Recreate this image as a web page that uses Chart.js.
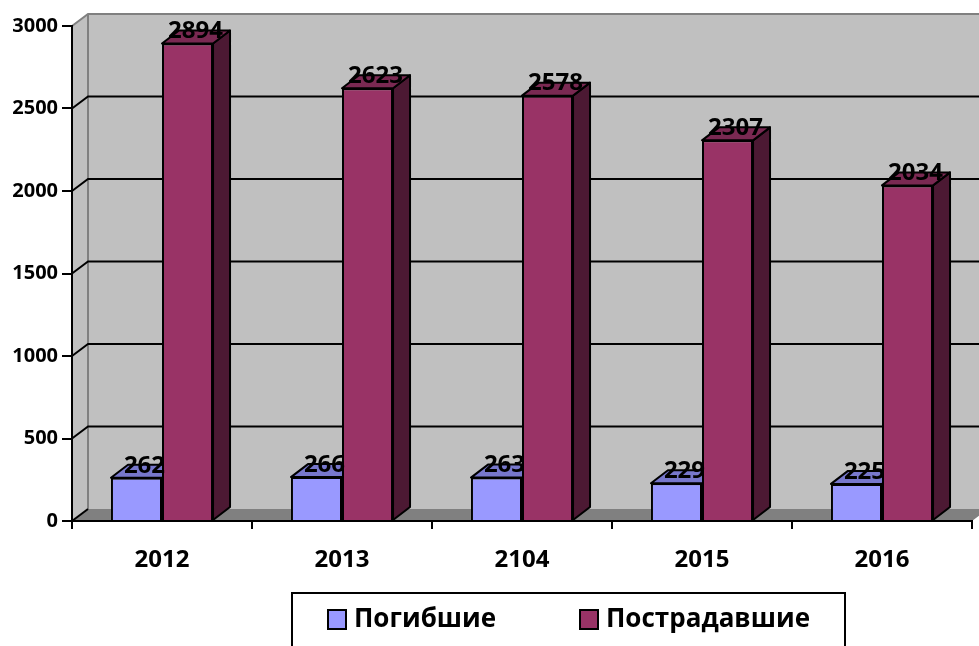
<!DOCTYPE html>
<html>
<head>
<meta charset="utf-8">
<script src="https://cdn.jsdelivr.net/npm/chart.js@4"></script>
<style>
  html, body { margin: 0; padding: 0; background: #fff; }
  #wrap { width: 979px; height: 646px; }
</style>
</head>
<body>
<div id="wrap"><canvas id="chart" width="979" height="646"></canvas></div>
<script>
const years = ['2012', '2013', '2104', '2015', '2016'];
const killed = [262, 266, 263, 229, 225];
const injured = [2894, 2623, 2578, 2307, 2034];
const seriesNames = ['Погибшие', 'Пострадавшие'];
const yMax = 3000;
const yStep = 500;

const FONT = '"Open Sans", "Liberation Sans", sans-serif';
// depth of the fake 3d
const DX = 16, DY = -12;
const BDX = 17, BDY = -13;

const colors = {
    front: ['#9999ff', '#993366'],
    top: ['#7777cc', '#7a2952'],
    side: ['#5c5c99', '#4c1933']
};

// walls, floor and gridlines behind everything
const walls = {
    id: 'walls',
    beforeDraw(chart) {
        const ctx = chart.ctx;
        const y = chart.scales.y;
        const a = chart.chartArea;
        const W = chart.width;
        const L = a.left, T = y.getPixelForValue(yMax), B = y.getPixelForValue(0);
        ctx.save();
        // back wall
        ctx.fillStyle = '#c0c0c0';
        ctx.fillRect(L + DX, T + DY, W - L - DX, B - T);
        // left wall
        ctx.beginPath();
        ctx.moveTo(L, T); ctx.lineTo(L + DX, T + DY); ctx.lineTo(L + DX, B + DY); ctx.lineTo(L, B);
        ctx.closePath(); ctx.fill();
        // floor
        ctx.fillStyle = '#808080';
        ctx.beginPath();
        ctx.moveTo(L, B); ctx.lineTo(L + DX, B + DY); ctx.lineTo(W + 20, B + DY); ctx.lineTo(a.right + DX, B + DY);
        ctx.lineTo(a.right, B); ctx.closePath(); ctx.fill();

        // gray edges
        ctx.strokeStyle = '#808080';
        ctx.lineWidth = 2;
        ctx.beginPath();
        ctx.moveTo(L, T); ctx.lineTo(L + DX, T + DY); ctx.lineTo(W, T + DY);
        ctx.moveTo(L + DX, T + DY); ctx.lineTo(L + DX, B + DY);
        ctx.stroke();

        // gridlines on the walls
        ctx.strokeStyle = '#000';
        ctx.lineWidth = 2;
        for (let v = 0; v < yMax; v += yStep) {
            const py = y.getPixelForValue(v);
            ctx.beginPath();
            ctx.moveTo(L, py); ctx.lineTo(L + DX, py + DY);
            if (v > 0) ctx.lineTo(W, py + DY);
            ctx.stroke();
        }
        ctx.restore();
    }
};

// top and side faces of the bars
const bars3d = {
    id: 'bars3d',
    beforeDatasetsDraw(chart) {
        const ctx = chart.ctx;
        ctx.save();
        ctx.strokeStyle = '#000';
        ctx.lineWidth = 2;
        ctx.lineJoin = 'round';
        chart.data.datasets.forEach((ds, di) => {
            chart.getDatasetMeta(di).data.forEach(bar => {
                const p = bar.getProps(['x', 'y', 'base', 'width'], true);
                const l = p.x - p.width / 2, r = p.x + p.width / 2;
                // side
                ctx.fillStyle = colors.side[di];
                ctx.beginPath();
                ctx.moveTo(r, p.y); ctx.lineTo(r + BDX, p.y + BDY);
                ctx.lineTo(r + BDX, p.base + BDY); ctx.lineTo(r, p.base);
                ctx.closePath(); ctx.fill(); ctx.stroke();
                // top
                ctx.fillStyle = colors.top[di];
                ctx.beginPath();
                ctx.moveTo(l, p.y); ctx.lineTo(l + BDX, p.y + BDY);
                ctx.lineTo(r + BDX, p.y + BDY); ctx.lineTo(r, p.y);
                ctx.closePath(); ctx.fill(); ctx.stroke();
            });
        });
        ctx.restore();
    },
    afterDatasetsDraw(chart) {
        const ctx = chart.ctx;
        ctx.save();
        ctx.fillStyle = '#000';
        ctx.font = 'bold 24px ' + FONT;
        ctx.textAlign = 'center';
        ctx.textBaseline = 'middle';
        chart.data.datasets.forEach((ds, di) => {
            chart.getDatasetMeta(di).data.forEach((bar, i) => {
                ctx.fillText(String(ds.data[i]), bar.x + 8, bar.y - 12);
            });
        });
        ctx.restore();
    }
};

// boxed legend like the original
const boxLegend = {
    id: 'boxLegend',
    afterDraw(chart) {
        const ctx = chart.ctx;
        ctx.save();
        ctx.strokeStyle = '#000';
        ctx.lineWidth = 2;
        ctx.strokeRect(292, 593, 553, 70);
        const xs = [328, 580];
        ctx.font = 'bold 26px ' + FONT;
        ctx.textBaseline = 'middle';
        ctx.textAlign = 'left';
        chart.data.datasets.forEach((ds, di) => {
            ctx.fillStyle = ds.backgroundColor;
            ctx.fillRect(xs[di], 610, 18, 19);
            ctx.strokeRect(xs[di], 610, 18, 19);
            ctx.fillStyle = '#000';
            ctx.fillText(ds.label, xs[di] + 26, 620);
        });
        ctx.restore();
    }
};

new Chart(document.getElementById('chart'), {
    type: 'bar',
    data: {
        labels: years,
        datasets: [
            { label: seriesNames[0], data: killed, backgroundColor: colors.front[0], borderColor: '#000', borderWidth: 2 },
            { label: seriesNames[1], data: injured, backgroundColor: colors.front[1], borderColor: '#000', borderWidth: 2 }
        ]
    },
    options: {
        responsive: false,
        animation: false,
        layout: { padding: { top: 26, right: 7, left: 0, bottom: 0 } },
        datasets: { bar: { categoryPercentage: 0.567, barPercentage: 1.0 } },
        plugins: { legend: { display: false }, tooltip: { enabled: false } },
        scales: {
            x: {
                afterFit: s => { s.height = 125; },
                grid: { offset: true, drawOnChartArea: false, drawTicks: true, tickLength: 8, color: '#000', lineWidth: 2 },
                border: { display: true, color: '#000', width: 2 },
                ticks: { color: '#000', font: { family: FONT, size: 24, weight: 'bold' }, padding: 17 }
            },
            y: {
                min: 0, max: yMax,
                afterFit: s => { s.width = 72; },
                grid: { drawOnChartArea: false, drawTicks: true, tickLength: 10, color: '#000', lineWidth: 2 },
                border: { display: true, color: '#000', width: 2 },
                ticks: { stepSize: yStep, callback: v => String(v), color: '#000', font: { family: FONT, size: 20, weight: 'bold' }, padding: 4 }
            }
        }
    },
    plugins: [walls, bars3d, boxLegend]
});
</script>
</body>
</html>
